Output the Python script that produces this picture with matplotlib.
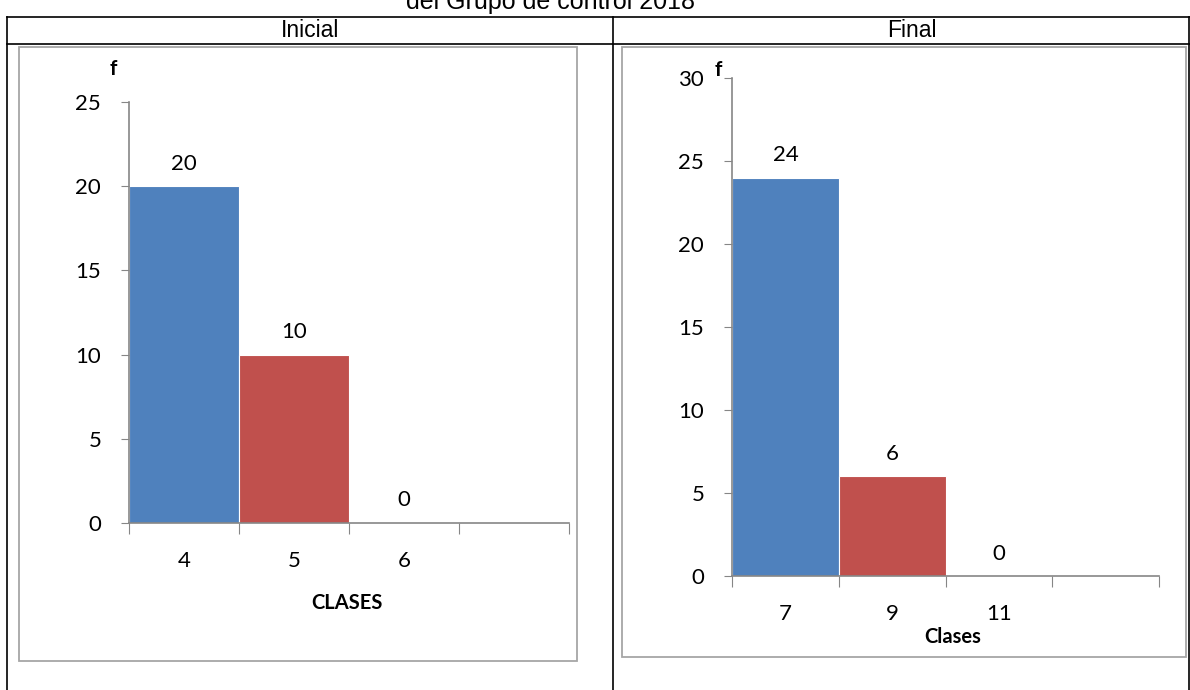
import matplotlib.pyplot as plt
from matplotlib.lines import Line2D
from matplotlib.patches import Rectangle

# data
ini_classes = ["4", "5", "6", ""]
ini_freq = [20, 10, 0]
fin_classes = ["7", "9", "11", ""]
fin_freq = [24, 6, 0]
bar_colors = ["#4F81BD", "#C0504D", "#4F81BD"]

W, H = 1190, 690
chart_font = ["Lato", "DejaVu Sans"]
table_font = ["Liberation Sans", "DejaVu Sans"]
axis_gray = "#868686"


def fx(px):
    return px / W


def fy(py):
    return 1 - py / H


fig = plt.figure(figsize=(W / 100, H / 100), dpi=100)
fig.patch.set_facecolor("white")

# table frame around the two charts
for (x0, y0, x1, y1) in [(7, 17, 1190, 17), (7, 44, 1190, 44), (7, 17, 7, 690),
                         (613, 17, 613, 690), (1189, 17, 1189, 690)]:
    fig.add_artist(Line2D([fx(x0), fx(x1)], [fy(y0), fy(y1)], color="black", lw=1.2))

fig.text(fx(551), fy(9), "del Grupo de control 2018", ha="center", va="baseline",
         fontsize=18, family=table_font)
fig.text(fx(310), fy(37), "Inicial", ha="center", va="baseline", fontsize=16.5, family=table_font)
fig.text(fx(912), fy(37), "Final", ha="center", va="baseline", fontsize=16.5, family=table_font)

# gray chart boxes
for (x0, y0, x1, y1) in [(19, 47, 577, 661), (622, 47, 1186, 657)]:
    fig.add_artist(Rectangle((fx(x0), fy(y1)), fx(x1 - x0), (y1 - y0) / H,
                             fill=False, edgecolor="#A6A6A6", lw=1.3))


def draw_hist(rect, classes, freq, ymax, xlabel, xlabel_pos, f_pos):
    ax = fig.add_axes(rect)
    pos = list(range(len(freq)))
    ax.bar(pos, freq, width=1.0, color=bar_colors[:len(freq)], edgecolor="white", linewidth=0.8)
    for p, v in zip(pos, freq):
        ax.annotate(str(v), (p, v), xytext=(0, 9), textcoords="offset points",
                    ha="center", va="bottom", fontsize=16, family=chart_font)
    ax.set_xlim(-0.5, len(classes) - 0.5)
    ax.set_ylim(0, ymax)
    ax.set_yticks(range(0, ymax + 1, 5))
    ax.set_xticks([i - 0.5 for i in range(len(classes) + 1)])
    ax.set_xticklabels([])
    ax.set_xticks(range(len(classes)), minor=True)
    ax.set_xticklabels(classes, minor=True)
    ax.tick_params(axis="x", which="major", length=8, color=axis_gray, direction="out")
    ax.tick_params(axis="x", which="minor", length=0, pad=20, labelsize=16)
    ax.tick_params(axis="y", length=6, color=axis_gray, pad=14, labelsize=16)
    for lab in ax.get_xticklabels(minor=True) + ax.get_yticklabels():
        lab.set_family(chart_font)
    for s in ["top", "right"]:
        ax.spines[s].set_visible(False)
    for s in ["left", "bottom"]:
        ax.spines[s].set_color(axis_gray)
        ax.spines[s].set_linewidth(1.2)
    fig.text(fx(xlabel_pos[0]), fy(xlabel_pos[1]), xlabel, ha="center", va="center",
             fontsize=14.5, fontweight="bold", family=chart_font)
    fig.text(fx(f_pos[0]), fy(f_pos[1]), "f", ha="center", va="center",
             fontsize=15, fontweight="bold", family=chart_font)
    return ax


draw_hist([fx(129), fy(523), fx(569 - 129), (523 - 102) / H], ini_classes, ini_freq,
          25, "CLASES", (347, 603), (113, 69))
draw_hist([fx(732), fy(576), fx(1159 - 732), (576 - 78) / H], fin_classes, fin_freq,
          30, "Clases", (953, 637), (718, 70))

fig.savefig("out.png", dpi=100, facecolor="white")
